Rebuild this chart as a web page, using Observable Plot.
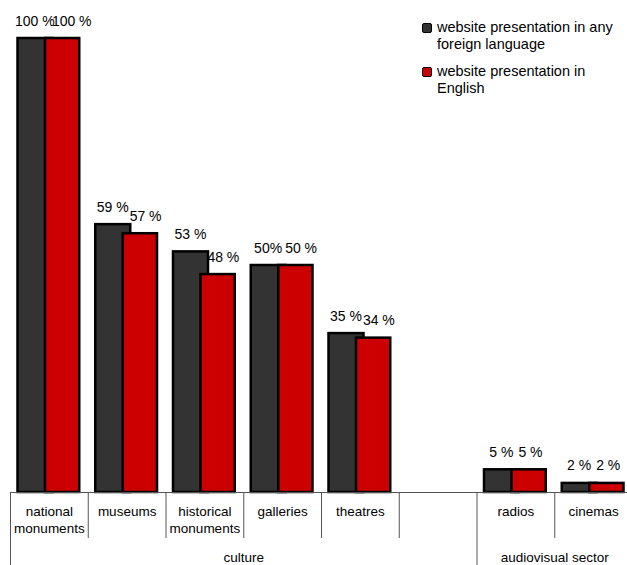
<!DOCTYPE html>
<html>
<head>
<meta charset="utf-8">
<script src="https://cdn.jsdelivr.net/npm/d3@7"></script>
<script src="https://cdn.jsdelivr.net/npm/@observablehq/plot@0.6"></script>
<style>
  html, body { margin: 0; padding: 0; background: #fff; overflow: hidden; }
  #wrap { position: relative; width: 632px; height: 565px; overflow: hidden; }
  #wrap svg { max-width: none !important; display: block; }
  #legend { position: absolute; left: 422px; top: 19px; font: 14.5px "Liberation Sans", Arial, sans-serif; color: #000; line-height: 17.3px; }
  .item { position: relative; padding-left: 15px; margin-bottom: 9px; white-space: pre; }
  .sw { position: absolute; left: 0; top: 4px; width: 8px; height: 8px; border: 1.5px solid #000; border-radius: 2px; }
</style>
</head>
<body>
<div id="wrap"></div>
<script>
// ---- data ----
const categories = ["national monuments", "museums", "historical monuments", "galleries", "theatres", "", "radios", "cinemas"];
const categoryLabels = ["national\nmonuments", "museums", "historical\nmonuments", "galleries", "theatres", "", "radios", "cinemas"];
const foreignValues = [100, 59, 53, 50, 35, null, 5, 2];
const englishValues = [100, 57, 48, 50, 34, null, 5, 2];
const foreignLabels = ["100 %", "59 %", "53 %", "50%", "35 %", "", "5 %", "2 %"];
const englishLabels = ["100 %", "57 %", "48 %", "50 %", "34 %", "", "5 %", "2 %"];
const seriesNames = ["website presentation in any\nforeign language", "website presentation in\nEnglish"];
const seriesColors = ["#333333", "#cc0000"];
const groups = ["culture", "audiovisual sector"];
const groupSizes = [6, 2];

// keys (empty category needs a unique key)
const keys = categories.map((c, i) => c === "" ? "__gap" + i : c);

const foreign = keys.map((k, i) => ({cat: k, value: foreignValues[i], label: foreignLabels[i]})).filter(d => d.value != null);
const english = keys.map((k, i) => ({cat: k, value: englishValues[i], label: englishLabels[i]})).filter(d => d.value != null);
const catText = keys.map((k, i) => ({cat: k, label: categoryLabels[i]}));

const W = 632, left = 10;
const bw = (W - left) / keys.length;

// group starts and centres (group sizes are even: centre = start of middle slot)
let acc = 0;
const groupData = groups.map((g, i) => {
  const start = acc; acc += groupSizes[i];
  return {name: g, first: keys[start], mid: keys[start + groupSizes[i] / 2]};
});
const groupStarts = new Set(groupData.map(g => g.first));
const shortSeps = keys.filter(k => !groupStarts.has(k));
const longSeps = keys.filter(k => groupStarts.has(k));

const font = "Liberation Sans, Arial, sans-serif";

const chart = Plot.plot({
  width: W,
  height: 565,
  marginLeft: left,
  marginRight: 0,
  marginTop: 0,
  marginBottom: 0,
  style: {fontFamily: font, fontSize: "13px", background: "white", overflow: "visible", maxWidth: "none"},
  x: {domain: keys, padding: 0, round: false, axis: null, range: [left, W]},
  y: {domain: [0, 100], range: [492, 38], axis: null},
  marks: [
    Plot.barY(foreign, {x: "cat", y: "value", fill: seriesColors[0], stroke: "#000", strokeWidth: 2.5, insetLeft: 7.5, insetRight: bw - 7.5 - 35}),
    Plot.barY(english, {x: "cat", y: "value", fill: seriesColors[1], stroke: "#000", strokeWidth: 2.5, insetLeft: 35, insetRight: 8.5}),
    Plot.text(foreign, {x: "cat", y: "value", text: "label", lineAnchor: "bottom", dy: -13, dx: -14.5, fontSize: 14, fill: "#000"}),
    Plot.text(english, {x: "cat", y: "value", text: "label", lineAnchor: "bottom", dy: -13, dx: 2.5, textAnchor: "start", fontSize: 14, fill: "#000"}),
    Plot.ruleY([0], {stroke: "#555", strokeWidth: 1}),
    Plot.ruleX(shortSeps, {x: d => d, dx: -bw / 2, stroke: "#555", strokeWidth: 1, insetTop: 492, insetBottom: 565 - 538}),
    Plot.ruleX(longSeps, {x: d => d, dx: -bw / 2, stroke: "#555", strokeWidth: 1, insetTop: 492}),
    Plot.text(catText, {x: "cat", text: "label", frameAnchor: "top", lineAnchor: "top", dy: 503.5, lineHeight: 1.26, fontSize: 13.5, fill: "#000"}),
    Plot.text(groupData, {x: "mid", text: "name", frameAnchor: "bottom", lineAnchor: "bottom", dy: -4, dx: -bw / 2, fontSize: 13.5, fill: "#000"})
  ]
});

const wrap = document.getElementById("wrap");
wrap.appendChild(chart);

const legend = document.createElement("div");
legend.id = "legend";
seriesNames.forEach((name, i) => {
  const item = document.createElement("div");
  item.className = "item";
  const sw = document.createElement("span");
  sw.className = "sw";
  sw.style.background = seriesColors[i];
  item.appendChild(sw);
  item.appendChild(document.createTextNode(name));
  legend.appendChild(item);
});
wrap.appendChild(legend);
</script>
</body>
</html>
